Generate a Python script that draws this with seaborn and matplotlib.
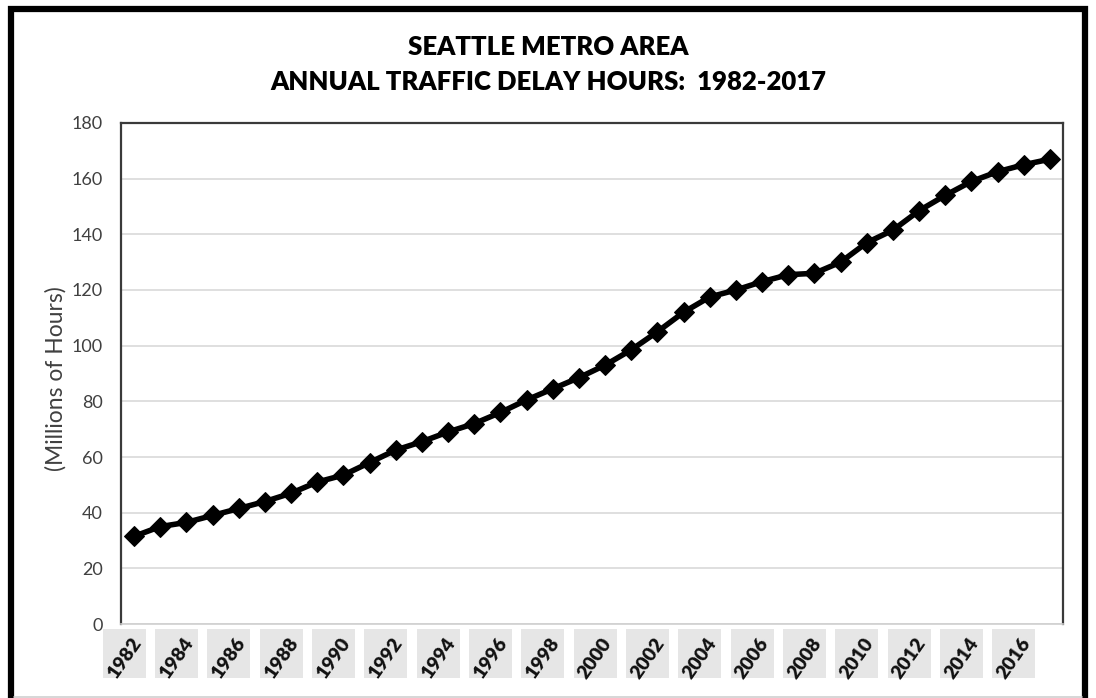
import matplotlib
matplotlib.use('Agg')
import matplotlib.pyplot as plt
import matplotlib.transforms as mtransforms
from matplotlib.lines import Line2D
from matplotlib.patches import Rectangle
import pandas as pd
import seaborn as sns

# Annual delay hours, millions
years = list(range(1982, 2018))
delay_hours = [31.5, 35, 36.5, 39, 41.5, 44, 47, 51, 53.5, 58,
               62.5, 65.5, 69, 72, 76, 80.5, 84.5, 88.5, 93, 98.5,
               105, 112, 117.5, 120, 123, 125.5, 126, 130, 137, 141.5,
               148.5, 154, 159, 162.5, 165, 167]
y_ticks = list(range(0, 181, 20))
x_ticks = list(range(1982, 2017, 2))

df = pd.DataFrame({'year': years, 'hours': delay_hours})

sns.set_theme(style='white')
plt.rcParams['font.family'] = ['Lato', 'DejaVu Sans']

fig = plt.figure(figsize=(10.96, 6.98), dpi=100)
ax = fig.add_axes([0.1104, 0.106, 0.8595, 0.7178])

sns.lineplot(data=df, x='year', y='hours', ax=ax, color='black', linewidth=4,
             marker='D', markersize=10.5, markeredgecolor='black', markerfacecolor='black')

ax.set_xlim(1981.5, 2017.5)
ax.set_ylim(0, 180)
ax.set_yticks(y_ticks)
ax.set_xticks(x_ticks)
ax.set_xticklabels([str(y) for y in x_ticks])
ax.grid(axis='y', color='#d9d9d9', linewidth=1.2)
ax.set_axisbelow(True)
ax.tick_params(axis='both', length=0)
ax.tick_params(axis='y', pad=13, labelsize=13, labelcolor='#404040')
ax.tick_params(axis='x', pad=8)

for side in ['left', 'top', 'right']:
    ax.spines[side].set_color('#3a3a3a')
    ax.spines[side].set_linewidth(1.6)
ax.spines['bottom'].set_color('#d0d0d0')
ax.spines['bottom'].set_linewidth(1.2)

shift = mtransforms.ScaledTranslation(-10 / 100, 0, fig.dpi_scale_trans)
for lab in ax.get_xticklabels():
    lab.set_rotation(55)
    lab.set_ha('center')
    lab.set_va('top')
    lab.set_fontsize(14)
    lab.set_fontweight('heavy')
    lab.set_color('#111111')
    lab.set_transform(lab.get_transform() + shift)

ax.set_xlabel('')
ax.set_ylabel('(Millions of Hours)', fontsize=16.5, color='#404040')
ax.yaxis.set_label_coords(-0.058, 0.49)

fig.text(0.5, 0.933, 'SEATTLE METRO AREA', ha='center', va='center',
         fontsize=18.5, fontweight='heavy', color='black')
fig.text(0.5, 0.883, 'ANNUAL TRAFFIC DELAY HOURS:  1982-2017', ha='center', va='center',
         fontsize=18.5, fontweight='heavy', color='black')

# grey upright boxes behind the slanted year labels (Excel style);
# the text extent carries descent space at its lower side, so lift the box a bit
fig.canvas.draw()
box_w, box_h, lift = 43, 49, 5
for lab in ax.get_xticklabels():
    bb = lab.get_window_extent()
    cx, cy = (bb.x0 + bb.x1) / 2, (bb.y0 + bb.y1) / 2 + lift
    fig.add_artist(Rectangle((cx - box_w / 2, cy - box_h / 2), box_w, box_h,
                             transform=mtransforms.IdentityTransform(),
                             facecolor='#e6e6e6', edgecolor='none', zorder=-1))

# outer frame: black on left/top/right, light line at the bottom
fig.add_artist(Line2D([0.010, 0.010, 0.9904, 0.9904], [0.0, 0.9864, 0.9864, 0.0],
                      transform=fig.transFigure, color='black', linewidth=4.5,
                      solid_joinstyle='miter'))
fig.add_artist(Line2D([0.013, 0.987], [0.0015, 0.0015], transform=fig.transFigure,
                      color='#d0d0d0', linewidth=1.2))

fig.savefig('out.png', dpi=100)
